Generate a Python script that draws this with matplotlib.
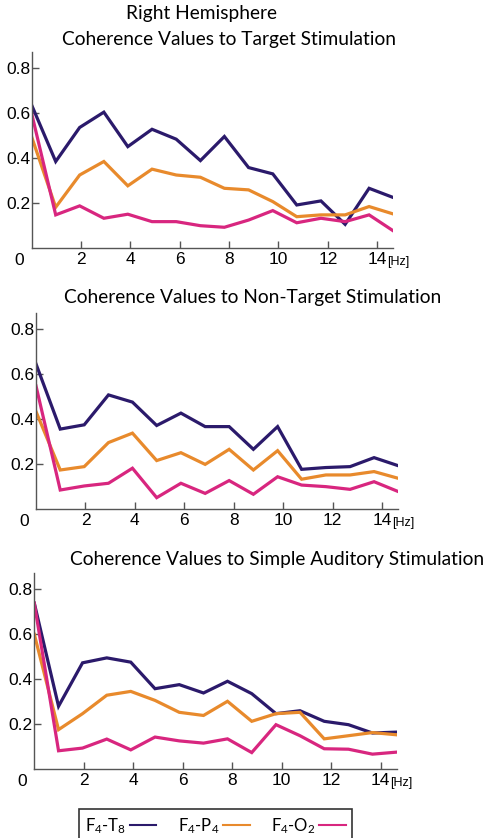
import matplotlib
matplotlib.use("Agg")
import matplotlib.pyplot as plt
from matplotlib.lines import Line2D

plt.rcParams['font.family'] = ['Liberation Sans', 'DejaVu Sans']
plt.rcParams['mathtext.default'] = 'regular'

# frequency bins (Hz)
freqs = [0.0, 0.98, 1.95, 2.93, 3.9, 4.88, 5.86, 6.84, 7.81, 8.79,
         9.77, 10.74, 11.72, 12.7, 13.67, 14.65]

titles = ["Coherence Values to Target Stimulation",
          "Coherence Values to Non-Target Stimulation",
          "Coherence Values to Simple Auditory Stimulation"]

# F4-T8
target_t8 = [0.636, 0.384, 0.535, 0.603, 0.45, 0.527, 0.483, 0.388, 0.495, 0.357,
             0.329, 0.191, 0.209, 0.105, 0.265, 0.224]
nontarget_t8 = [0.645, 0.355, 0.374, 0.507, 0.475, 0.371, 0.426, 0.366, 0.366, 0.265,
                0.366, 0.176, 0.184, 0.188, 0.228, 0.192]
auditory_t8 = [0.737, 0.279, 0.472, 0.494, 0.475, 0.357, 0.375, 0.338, 0.39, 0.335,
               0.246, 0.259, 0.212, 0.197, 0.16, 0.164]

# F4-P4
target_p4 = [0.495, 0.181, 0.324, 0.384, 0.276, 0.35, 0.324, 0.314, 0.265, 0.258,
             0.206, 0.139, 0.147, 0.147, 0.184, 0.151]
nontarget_p4 = [0.433, 0.173, 0.188, 0.295, 0.337, 0.215, 0.25, 0.198, 0.265, 0.173,
                0.259, 0.132, 0.151, 0.151, 0.166, 0.136]
auditory_p4 = [0.599, 0.175, 0.246, 0.328, 0.345, 0.305, 0.252, 0.238, 0.301, 0.212,
               0.246, 0.252, 0.134, 0.148, 0.162, 0.152]

# F4-O2
target_o2 = [0.6, 0.147, 0.187, 0.132, 0.15, 0.117, 0.117, 0.099, 0.092, 0.124,
             0.166, 0.112, 0.132, 0.117, 0.147, 0.076]
nontarget_o2 = [0.547, 0.084, 0.102, 0.114, 0.181, 0.05, 0.114, 0.069, 0.126, 0.065,
                0.143, 0.106, 0.099, 0.087, 0.121, 0.077]
auditory_o2 = [0.737, 0.081, 0.093, 0.133, 0.085, 0.142, 0.125, 0.115, 0.134, 0.073,
               0.197, 0.148, 0.09, 0.088, 0.066, 0.075]

series_labels = ["F$_4$-T$_8$", "F$_4$-P$_4$", "F$_4$-O$_2$"]
colors = ["#2b1a6b", "#e88a2c", "#d8267f"]

panels = [
    [target_t8, target_p4, target_o2],
    [nontarget_t8, nontarget_p4, nontarget_o2],
    [auditory_t8, auditory_p4, auditory_o2],
]

W, H = 484, 838
fig = plt.figure(figsize=(W / 100, H / 100), dpi=100)

# axes boxes in pixels: left, right, y of zero, y of top
boxes = [(31.5, 393.3, 248.0, 52.0),
         (36.0, 398.3, 508.9, 313.3),
         (34.3, 396.7, 769.0, 573.3)]
title_pos = [(229, 39), (253, 297), (277, 559)]
title_font = ['Lato', 'DejaVu Sans']

axes_color = "#555555"
for i, (data, box) in enumerate(zip(panels, boxes)):
    l, r, y0, yt = box
    ax = fig.add_axes([l / W, (H - y0) / H, (r - l) / W, (y0 - yt) / H])
    for vals, c in zip(data, colors):
        ax.plot(freqs, vals, color=c, lw=2.3, solid_joinstyle='miter')
    ax.set_xlim(0, 14.65)
    ax.set_ylim(0, 0.87)
    ax.spines['top'].set_visible(False)
    ax.spines['right'].set_visible(False)
    for s in ('left', 'bottom'):
        ax.spines[s].set_color(axes_color)
        ax.spines[s].set_linewidth(1.0)
    ax.set_xticks([2, 4, 6, 8, 10, 12, 14])
    ax.set_yticks([0.2, 0.4, 0.6, 0.8])
    ax.set_yticklabels(["0.2", "0.4", "0.6", "0.8"])
    ax.tick_params(direction='in', length=5, width=1.0, color=axes_color,
                   labelsize=12.5, pad=3)
    ax.tick_params(axis='y', pad=1)
    ax.text(-0.02, -0.025, "0", transform=ax.transAxes, ha='right', va='top',
            fontsize=12.5)
    ax.text(14.4, -0.04, "[Hz]", transform=ax.get_xaxis_transform(),
            ha='left', va='top', fontsize=9)
    tx, ty = title_pos[i]
    fig.text(tx / W, 1 - ty / H, titles[i], ha='center', va='center',
             fontsize=13.8, family=title_font)

fig.text(202 / W, 1 - 13 / H, "Right Hemisphere", ha='center', va='center',
         fontsize=13.8, family=title_font)

handles = [Line2D([], [], color=c, lw=1.5) for c in colors]
leg = fig.legend(handles, series_labels, ncol=3, markerfirst=False,
                 loc='upper center', bbox_to_anchor=(215.5 / W, 1 - 801 / H),
                 frameon=True, fancybox=False, edgecolor='black',
                 handlelength=1.6, handletextpad=0.2,
                 columnspacing=1.3, borderpad=0.4,
                 prop={'family': title_font, 'size': 12})
leg.get_frame().set_linewidth(1.2)

fig.savefig("out.png", dpi=100)
